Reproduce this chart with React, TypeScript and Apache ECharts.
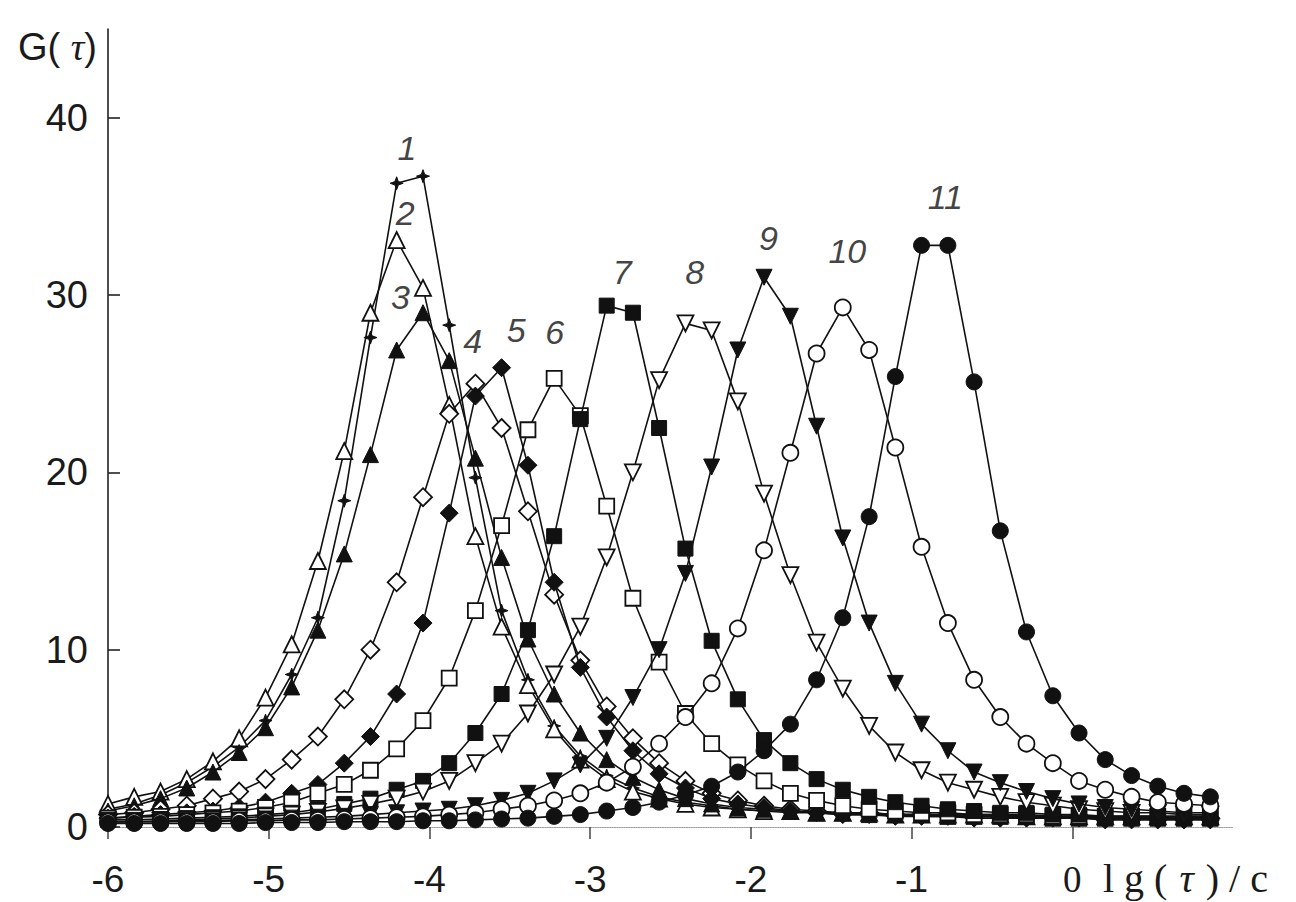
import React, { useEffect, useRef } from "react";
import * as echarts from "echarts";

// lg(tau) grid shared by all curves
const xs = [
  -6.0, -5.837, -5.673, -5.51, -5.347, -5.184, -5.02, -4.857, -4.694, -4.53, -4.367,
  -4.204, -4.04, -3.877, -3.714, -3.551, -3.387, -3.224, -3.061, -2.897, -2.734, -2.571,
  -2.407, -2.244, -2.081, -1.918, -1.754, -1.591, -1.428, -1.264, -1.101, -0.938, -0.774,
  -0.611, -0.448, -0.285, -0.121, 0.042, 0.205, 0.369, 0.532, 0.695, 0.859,
];

const g1 = [1.0, 1.3, 1.8, 2.5, 3.4, 4.5, 6.0, 8.6, 11.8, 18.4, 27.6, 36.3, 36.7,
  28.3, 19.7, 12.2, 8.3, 5.7, 4.0, 2.9, 2.2, 1.7, 1.4, 1.2, 1.0, 0.9,
  0.8, 0.8, 0.7, 0.7, 0.7, 0.6, 0.6, 0.6, 0.6, 0.5, 0.5, 0.5, 0.5, 0.5, 0.5, 0.5, 0.5];
const g2 = [1.3, 1.7, 2.0, 2.7, 3.7, 5.0, 7.3, 10.3, 15.0, 21.2, 29.0, 33.1, 30.4,
  23.8, 16.4, 11.3, 8.0, 5.5, 3.8, 2.7, 2.0, 1.6, 1.3, 1.1, 1.0, 0.9,
  0.9, 0.8, 0.8, 0.8, 0.7, 0.7, 0.7, 0.7, 0.7, 0.6, 0.6, 0.6, 0.6, 0.6, 0.6, 0.6, 0.6];
const g3 = [0.9, 1.2, 1.6, 2.2, 3.1, 4.2, 5.6, 7.9, 11.1, 15.4, 21.0, 26.9, 29.0,
  26.3, 20.8, 15.2, 10.6, 7.5, 5.3, 3.8, 2.8, 2.1, 1.6, 1.3, 1.1, 1.0,
  0.9, 0.8, 0.8, 0.7, 0.7, 0.7, 0.6, 0.6, 0.6, 0.6, 0.5, 0.5, 0.5, 0.5, 0.5, 0.5, 0.5];
const g4 = [0.7, 0.8, 1.0, 1.2, 1.6, 2.0, 2.7, 3.8, 5.1, 7.2, 10.0, 13.8, 18.6,
  23.3, 25.0, 22.5, 17.8, 13.1, 9.4, 6.8, 5.0, 3.6, 2.6, 1.9, 1.5, 1.2,
  1.0, 0.9, 0.8, 0.8, 0.7, 0.7, 0.7, 0.6, 0.6, 0.6, 0.6, 0.6, 0.5, 0.5, 0.5, 0.5, 0.5];
const g5 = [0.5, 0.6, 0.7, 0.8, 0.9, 1.1, 1.4, 1.9, 2.4, 3.6, 5.1, 7.5, 11.5,
  17.7, 24.3, 25.9, 20.4, 13.8, 9.0, 6.2, 4.3, 3.0, 2.2, 1.6, 1.3, 1.1,
  0.9, 0.8, 0.7, 0.7, 0.6, 0.6, 0.6, 0.5, 0.5, 0.5, 0.5, 0.5, 0.4, 0.4, 0.4, 0.4, 0.4];
const g6 = [0.5, 0.55, 0.6, 0.7, 0.8, 0.9, 1.1, 1.4, 1.9, 2.4, 3.2, 4.4, 6.0,
  8.4, 12.2, 17.0, 22.4, 25.3, 23.2, 18.1, 12.9, 9.3, 6.4, 4.7, 3.5, 2.6,
  1.9, 1.5, 1.2, 1.0, 0.9, 0.8, 0.8, 0.7, 0.7, 0.7, 0.6, 0.6, 0.6, 0.6, 0.6, 0.6, 0.6];
const g7 = [0.4, 0.4, 0.45, 0.5, 0.55, 0.6, 0.7, 0.8, 1.0, 1.3, 1.6, 2.1, 2.6,
  3.6, 5.3, 7.5, 11.1, 16.4, 23.0, 29.4, 29.0, 22.5, 15.7, 10.5, 7.2, 4.9,
  3.6, 2.7, 2.1, 1.7, 1.4, 1.2, 1.0, 0.9, 0.8, 0.8, 0.7, 0.7, 0.6, 0.6, 0.6, 0.5, 0.5];
const g8 = [0.3, 0.3, 0.35, 0.4, 0.45, 0.5, 0.6, 0.7, 0.85, 1.05, 1.3, 1.6, 2.0,
  2.6, 3.6, 4.7, 6.4, 8.6, 11.3, 15.2, 20.0, 25.2, 28.4, 28.0, 24.0, 18.8,
  14.2, 10.4, 7.8, 5.7, 4.2, 3.2, 2.5, 2.1, 1.7, 1.4, 1.2, 1.0, 0.9, 0.8, 0.8, 0.7, 0.7];
const g9 = [0.3, 0.3, 0.3, 0.35, 0.35, 0.4, 0.45, 0.5, 0.55, 0.6, 0.7, 0.8, 0.9,
  1.0, 1.2, 1.5, 1.9, 2.6, 3.5, 5.0, 7.3, 10.0, 14.3, 20.3, 26.9, 31.0,
  28.8, 22.6, 16.3, 11.5, 8.1, 5.8, 4.3, 3.1, 2.5, 2.0, 1.6, 1.3, 1.1, 1.0, 0.9, 0.8, 0.8];
const g10 = [0.3, 0.3, 0.3, 0.3, 0.3, 0.35, 0.35, 0.4, 0.4, 0.45, 0.5, 0.55, 0.6,
  0.7, 0.8, 1.0, 1.2, 1.5, 1.9, 2.5, 3.4, 4.7, 6.2, 8.1, 11.2, 15.6,
  21.1, 26.7, 29.3, 26.9, 21.4, 15.8, 11.5, 8.3, 6.2, 4.7, 3.6, 2.6, 2.1, 1.7, 1.4, 1.3, 1.2];
const g11 = [0.2, 0.2, 0.2, 0.2, 0.2, 0.2, 0.25, 0.25, 0.25, 0.3, 0.3, 0.3, 0.35,
  0.35, 0.4, 0.45, 0.5, 0.6, 0.7, 0.9, 1.1, 1.4, 1.8, 2.3, 3.1, 4.3,
  5.8, 8.3, 11.8, 17.5, 25.4, 32.8, 32.8, 25.1, 16.7, 11.0, 7.4, 5.3, 3.8, 2.9, 2.3, 1.9, 1.7];

// curve number labels (data coordinates)
const labelText = ["1", "2", "3", "4", "5", "6", "7", "8", "9", "10", "11"];
const labelX = [-4.14, -4.15, -4.18, -3.73, -3.46, -3.22, -2.8, -2.35, -1.89, -1.4, -0.79];
const labelY = [38.3, 34.6, 29.9, 27.4, 28.0, 27.9, 31.3, 31.3, 33.2, 32.5, 35.5];

const yTicks = [0, 10, 20, 30, 40];
const xTicks = [-6, -5, -4, -3, -2, -1, 0];

const STAR = "path://M0,-10L2.6,-2.6L10,0L2.6,2.6L0,10L-2.6,2.6L-10,0L-2.6,-2.6Z";

const curves = [
  { ys: g1, symbol: STAR, size: 13, filled: true, rotate: 0 },
  { ys: g2, symbol: "triangle", size: 16, filled: false, rotate: 0 },
  { ys: g3, symbol: "triangle", size: 16, filled: true, rotate: 0 },
  { ys: g4, symbol: "diamond", size: 18, filled: false, rotate: 0 },
  { ys: g5, symbol: "diamond", size: 18, filled: true, rotate: 0 },
  { ys: g6, symbol: "rect", size: 15, filled: false, rotate: 0 },
  { ys: g7, symbol: "rect", size: 15, filled: true, rotate: 0 },
  { ys: g8, symbol: "triangle", size: 16, filled: false, rotate: 180 },
  { ys: g9, symbol: "triangle", size: 16, filled: true, rotate: 180 },
  { ys: g10, symbol: "circle", size: 16, filled: false, rotate: 0 },
  { ys: g11, symbol: "circle", size: 16, filled: true, rotate: 0 },
];

const SANS = "'Liberation Sans', Arial, sans-serif";
const SERIF = "'Liberation Serif', 'Times New Roman', serif";

export default function App() {
  const ref = useRef<HTMLDivElement>(null);
  useEffect(() => {
    if (!ref.current) return;
    const chart = echarts.init(ref.current, null, { renderer: "svg" });
    const series: any[] = curves.map((c, i) => ({
      type: "line",
      name: labelText[i],
      data: xs.map((x, j) => [x, c.ys[j]]),
      symbol: c.symbol,
      symbolSize: c.size,
      symbolRotate: c.rotate,
      showSymbol: true,
      showAllSymbol: true,
      lineStyle: { color: "#111", width: 1.6 },
      itemStyle: c.filled
        ? { color: "#111", borderColor: "#111", borderWidth: 1 }
        : { color: "#fff", borderColor: "#111", borderWidth: 1.8 },
      z: 2 + i,
      silent: true,
    }));
    series.push({
      type: "scatter",
      data: labelText.map((t, i) => [labelX[i], labelY[i], t]),
      symbolSize: 0,
      silent: true,
      z: 20,
      label: {
        show: true,
        position: "inside",
        formatter: (p: any) => p.data[2],
        fontFamily: SANS,
        fontStyle: "italic",
        fontSize: 34,
        color: "#111",
      },
    });
    chart.setOption({
      animation: false,
      backgroundColor: "#fff",
      grid: { left: 108, right: 63, top: 29, bottom: 75 },
      xAxis: {
        type: "value",
        min: -6,
        max: 1,
        interval: 1,
        splitLine: { show: false },
        axisLine: { show: true, onZero: false, lineStyle: { color: "#999", type: "dotted", width: 1.2 } },
        axisTick: { show: true, inside: false, length: 12, customValues: xTicks, lineStyle: { color: "#444", width: 1.5 } },
        axisLabel: {
          margin: 36,
          fontSize: 37,
          lineHeight: 32,
          fontFamily: SANS,
          color: "#1a1a1a",
          customValues: xTicks,
          formatter: (v: number) => (v === 0 ? "{s|0}" : String(v)),
          rich: { s: { fontFamily: SERIF, fontSize: 37, lineHeight: 32, color: "#1a1a1a" } },
        },
      },
      yAxis: {
        type: "value",
        min: 0,
        max: 45,
        splitLine: { show: false },
        axisLine: { show: true, onZero: false, lineStyle: { color: "#222", width: 1.6 } },
        axisTick: { show: true, inside: true, length: 12, customValues: yTicks, lineStyle: { color: "#222", width: 1.6 } },
        axisLabel: { margin: 20, fontSize: 38, fontFamily: SANS, color: "#1a1a1a", customValues: yTicks },
      },
      graphic: [
        {
          type: "text",
          left: 18,
          top: 28,
          style: {
            text: "{a|G( }{b|τ}{a|)}",
            rich: {
              a: { fontFamily: SANS, fontSize: 38, fill: "#1a1a1a" },
              b: { fontFamily: SERIF, fontStyle: "italic", fontSize: 38, fill: "#1a1a1a" },
            },
          },
        },
        {
          type: "text",
          x: 1098,
          y: 898,
          style: {
            text: ["{a|l}", "{a|g}", "{a|(}", "{b|τ}", "{a|)}", "{a|/}", "{a|c}"].join(""),
            align: "left",
            verticalAlign: "bottom",
            rich: {
              a: { fontFamily: SERIF, fontSize: 40, lineHeight: 40, fill: "#1a1a1a", padding: [0, 5, 0, 5] },
              b: { fontFamily: SERIF, fontStyle: "italic", fontSize: 40, lineHeight: 40, fill: "#1a1a1a", padding: [0, 7, 0, 7] },
            },
          },
        },
      ],
      series,
    });
    return () => chart.dispose();
  }, []);
  return (
    <div
      ref={ref}
      style={{ position: "fixed", left: 0, top: 0, width: 1296, height: 902, background: "#fff" }}
    />
  );
}
